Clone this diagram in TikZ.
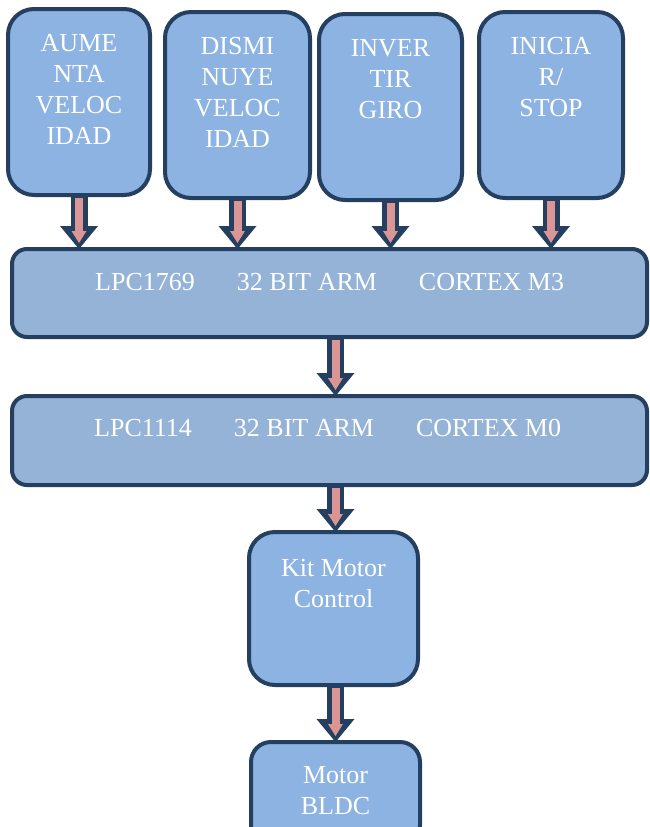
\documentclass[tikz,border=0pt]{standalone}
\usepackage{fontspec}
\setmainfont{Liberation Serif}
\usetikzlibrary{arrows.meta}
\definecolor{bfill}{HTML}{8DB3E2}
\definecolor{bigfill}{HTML}{95B3D7}
\definecolor{bline}{HTML}{243F60}
\definecolor{afill}{HTML}{D99694}
\begin{document}
\begin{tikzpicture}[x=1pt,y=-1pt,
 box/.style={draw=bline, fill=bfill, line width=4pt, rounded corners=26pt, inner sep=0pt, outer sep=0pt},
 bigbox/.style={box, fill=bigfill, rounded corners=15pt},
 txt/.style={text=white, font=\fontsize{26}{31}\selectfont, align=center, inner sep=0pt, anchor=north},
 arrO/.style={color=bline, line width=17pt, -{Triangle[width=38pt,length=23pt,line width=0pt]}},
 arrI/.style={color=afill, line width=8pt, shorten <=3pt, shorten >=6pt, -{Triangle[width=15pt,length=12pt,line width=0pt]}}]
\fill[white] (0,0) rectangle (650,827);
\useasboundingbox (0,0) rectangle (650,827);

% boxes
\node[box, minimum width=142pt, minimum height=186pt] (aum) at (79,102) {};
\node[box, minimum width=145pt, minimum height=186pt] (dis) at (237.5,105) {};
\node[box, minimum width=143pt, minimum height=186pt] (inv) at (390.5,107) {};
\node[box, minimum width=144pt, minimum height=186pt] (ini) at (551,105) {};
\node[bigbox, minimum width=635pt, minimum height=88pt] (lpc3) at (329.5,293) {};
\node[bigbox, minimum width=635pt, minimum height=89pt] (lpc0) at (329.5,440.5) {};
\node[box, minimum width=169pt, minimum height=153pt] (kit) at (333.5,608.5) {};
\node[box, rounded corners=20pt, minimum width=169pt, minimum height=103pt] (mot) at (335.5,793.5) {};

% texts
\node[txt] (taum) at ([yshift=-25pt]aum.north) {AUME\\NTA\\VELOC\\IDAD};
\node[txt] (tdis) at ([yshift=-25pt]dis.north) {DISMI\\NUYE\\VELOC\\IDAD};
\node[txt] (tinv) at ([yshift=-25pt]inv.north) {INVER\\TIR\\GIRO};
\node[txt] (tini) at ([yshift=-25pt]ini.north) {INICIA\\R/\\STOP};
\node[txt, anchor=north west] (tlpc3) at (95,273) {LPC1769\hspace{42pt}32 BIT ARM\hspace{42pt}CORTEX M3};
\node[txt, anchor=north west] (tlpc0) at (94,419) {LPC1114\hspace{42pt}32 BIT ARM\hspace{42pt}CORTEX M0};
\node[txt] (tkit) at ([yshift=-27pt]kit.north) {Kit Motor\\Control};
\node[txt] (tmot) at ([yshift=-24pt]mot.north) {Motor\\BLDC};

% arrows
\foreach \s in {aum,dis,inv,ini}{
  \draw[arrO] (\s.south) -- (\s.south |- lpc3.north);
  \draw[arrI] (\s.south) -- (\s.south |- lpc3.north);
}
\draw[arrO] (lpc3.south -| mot.north) -- (lpc0.north -| mot.north);
\draw[arrI] (lpc3.south -| mot.north) -- (lpc0.north -| mot.north);
\draw[arrO] (lpc0.south -| mot.north) -- (kit.north -| mot.north);
\draw[arrI] (lpc0.south -| mot.north) -- (kit.north -| mot.north);
\draw[arrO] (kit.south -| mot.north) -- (mot.north);
\draw[arrI] (kit.south -| mot.north) -- (mot.north);
\end{tikzpicture}
\end{document}
